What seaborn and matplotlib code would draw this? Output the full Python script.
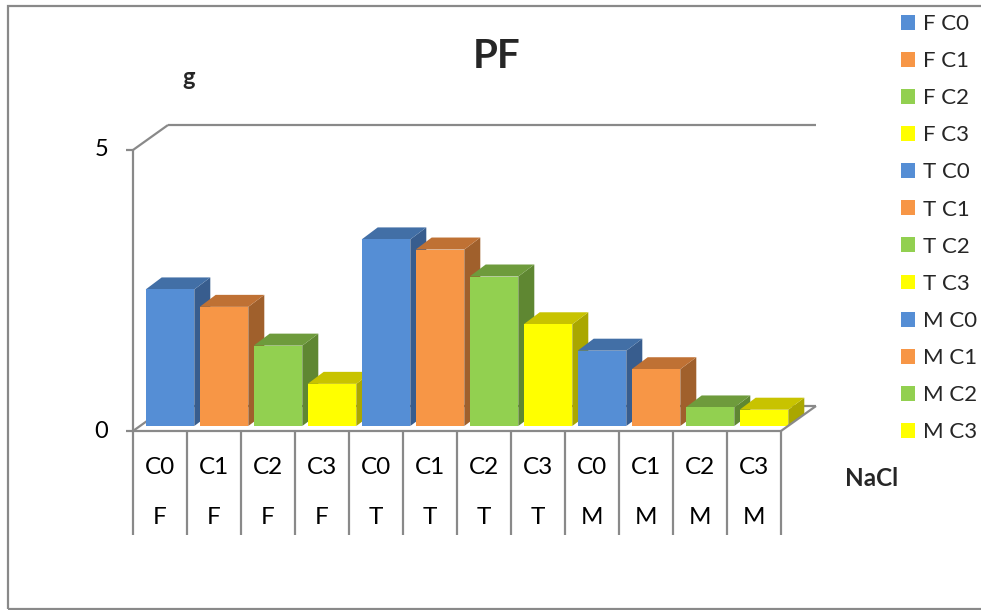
import matplotlib
matplotlib.use("Agg")
import matplotlib.pyplot as plt
import matplotlib.patches as mpatches
from matplotlib.lines import Line2D
import seaborn as sns
import pandas as pd

# ---- data ----
groups = ["F", "F", "F", "F", "T", "T", "T", "T", "M", "M", "M", "M"]
levels = ["C0", "C1", "C2", "C3"] * 3
values = [2.43, 2.12, 1.43, 0.75, 3.32, 3.14, 2.66, 1.81, 1.34, 1.01, 0.33, 0.29]
labels = [f"{g} {c}" for g, c in zip(groups, levels)]
y_ticks = [0, 5]

# face colours per level: front, top, side
front_cols = {"C0": "#558ED5", "C1": "#F79646", "C2": "#92D050", "C3": "#FFFF00"}
top_cols = {"C0": "#426FA6", "C1": "#BF7134", "C2": "#6E9B3C", "C3": "#C8C300"}
side_cols = {"C0": "#385D8E", "C1": "#A0602C", "C2": "#5F8732", "C3": "#AAA700"}

df = pd.DataFrame({"label": labels, "value": values, "level": levels})
palette = {lab: front_cols[lv] for lab, lv in zip(labels, levels)}

sns.set_theme(style="white")
plt.rcParams["font.family"] = ["Lato", "DejaVu Sans"]

W, H = 981, 610
fig = plt.figure(figsize=(W / 100, H / 100), dpi=100)
ax = fig.add_axes([143 / W, (H - 426) / H, 648 / W, 281 / H])

sns.barplot(data=df, x="label", y="value", hue="label", palette=palette,
            width=0.9, saturation=1, legend=False, ax=ax)
ax.set_xlim(-0.5, 11.5)
ax.set_ylim(0, 5)
ax.axis("off")

# pixel -> data unit conversion for the bar plane
ux = 648 / 12
uy = 281 / 5
ddx, ddy = 16 / ux, 12 / uy          # bar depth
fx, fy = -10 / ux, -5 / uy           # front plane offset
bx, by = 25 / ux, 20 / uy            # back wall offset

# 3D side and top faces for each bar
bars = sorted(ax.patches, key=lambda p: p.get_x())
for i, p in enumerate(bars):
    lv = levels[i]
    x0, w, h = p.get_x(), p.get_width(), p.get_height()
    z = 3 + i * 0.1
    side = mpatches.Polygon([(x0 + w, 0), (x0 + w + ddx, ddy), (x0 + w + ddx, h + ddy), (x0 + w, h)],
                            closed=True, facecolor=side_cols[lv], edgecolor="none",
                            zorder=z, clip_on=False)
    top = mpatches.Polygon([(x0, h), (x0 + ddx, h + ddy), (x0 + w + ddx, h + ddy), (x0 + w, h)],
                           closed=True, facecolor=top_cols[lv], edgecolor="none",
                           zorder=z, clip_on=False)
    ax.add_patch(side)
    ax.add_patch(top)
    p.set_zorder(z + 0.05)
    p.set_edgecolor("none")
    p.set_clip_on(False)

gray = "#898989"
lw = 1.6


def seg(xs, ys, z=2):
    ax.add_line(Line2D(xs, ys, color=gray, lw=lw, zorder=z, clip_on=False,
                       solid_capstyle="butt"))


xl, xr = -0.5, 11.5
# floor outline
seg([xl + fx, xr + fx], [fy, fy], z=10)
seg([xr + fx, xr + bx], [fy, by], z=10)
seg([xl + bx, xr + bx], [by, by], z=1)
seg([xl + fx, xl + bx], [fy, by], z=1)
# left wall and back wall top
seg([xl + fx, xl + fx], [fy, 5 + fy], z=10)
seg([xl + fx, xl + bx], [5 + fy, 5 + by], z=1)
seg([xl + bx, xr + bx], [5 + by, 5 + by], z=1)

# value axis ticks and labels
for t in y_ticks:
    seg([xl + fx - 7 / ux, xl + fx], [t + fy, t + fy], z=10)
    ax.text(xl + fx - 25 / ux, t + fy, str(t), ha="right", va="center",
            fontsize=17, color="black")

# category table below the floor
for k in range(13):
    seg([xl + k + fx, xl + k + fx], [fy, fy - 104 / uy], z=10)
for i in range(12):
    ax.text(i + fx, fy - 36 / uy, levels[i], ha="center", va="center",
            fontsize=17.5, color="black")
    ax.text(i + fx, fy - 87 / uy, groups[i], ha="center", va="center",
            fontsize=17.5, color="black")

# titles
fig.text(497 / W, 1 - 56 / H, "PF", ha="center", va="center",
         fontsize=29, fontweight="bold")
fig.text(182 / W, 1 - 85 / H, "g", ha="left", va="baseline",
         fontsize=17, fontweight="bold")
fig.text(872 / W, 1 - 486 / H, "NaCl", ha="center", va="baseline",
         fontsize=17.5, fontweight="bold")

# legend
handles = [mpatches.Patch(facecolor=front_cols[lv], edgecolor="none") for lv in levels]
fig.legend(handles, labels, loc="upper left", bbox_to_anchor=(901 / W, 1 - 14 / H),
           frameon=False, fontsize=16, handlelength=0.65, handleheight=0.65,
           handletextpad=0.32, labelspacing=0.77, borderaxespad=0, borderpad=0)

# outer chart border
fig.add_artist(mpatches.Rectangle((8 / W, 1 - 609 / H), 990 / W, 603 / H,
                                  transform=fig.transFigure, fill=False,
                                  edgecolor=gray, lw=1.6))

fig.savefig("out.png", dpi=100)
